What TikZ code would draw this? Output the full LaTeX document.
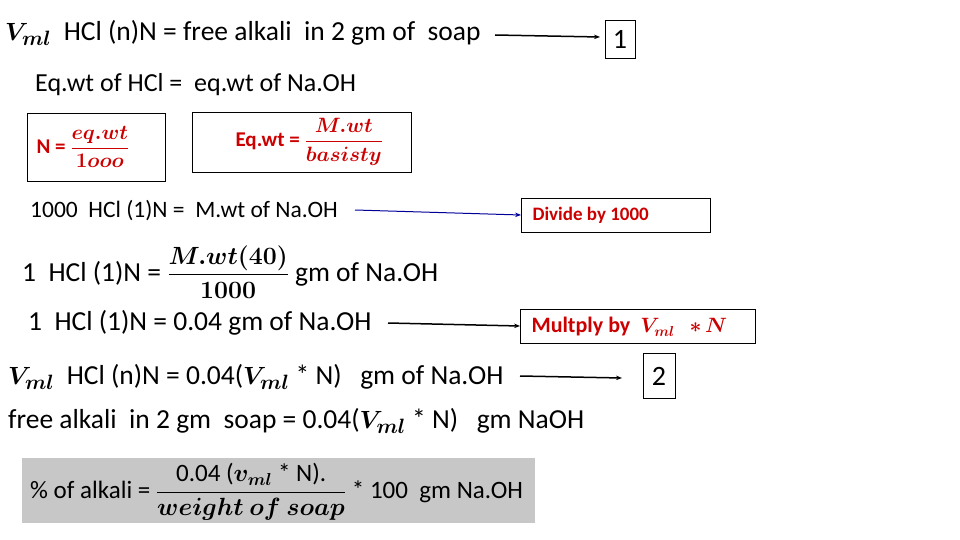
\documentclass[tikz,border=0pt]{standalone}
\usepackage{amsmath,bm}
\usepackage{fontspec}
\setmainfont{Carlito}
\usetikzlibrary{arrows.meta}
\begin{document}
\begin{tikzpicture}[x=1pt,y=-1pt,
  txt/.style={anchor=west,inner sep=0pt,font=\fontsize{27.5}{32}\selectfont},
  sm/.style={anchor=west,inner sep=0pt,font=\fontsize{23.5}{27}\selectfont},
  arr/.style={-{Stealth[length=6pt]},line width=1.5pt},
  bx/.style={draw,line width=0.8pt,inner sep=0pt},
  red/.style={text=red!80!black,font=\bfseries\fontsize{21}{25}\selectfont}]
\useasboundingbox (0,0) rectangle (960,540);
\node[txt] (l1) at (5,33) {$\bm{V_{ml}}$\ \ HCl (n)N = free alkali\ \ in 2 gm of\ \ soap};
\node[bx,minimum width=30,minimum height=38,font=\fontsize{28}{32}\selectfont] (b1) at (620,39) {1};
\coordinate (a1) at (495,35);
\draw[arr] (a1) -- (600,37);
\node[txt,font=\fontsize{26}{30}\selectfont] (l2) at (35,85) {Eq.wt of HCl =\ \ eq.wt of Na.OH};
\node[bx,minimum width=138,minimum height=68] (bn) at (96,147) {};
\node[red,anchor=west] at (33,147) {N = $\dfrac{\bm{eq.wt}}{\bm{1ooo}}$};
\node[bx,minimum width=219,minimum height=60] (be) at (302,142) {};
\node[red,anchor=west] at (232,142) {Eq.wt = $\dfrac{\bm{M.wt}}{\bm{basisty}}$};
\node[sm] (l3) at (30,211) {1000\ \ HCl (1)N =\ \ M.wt of Na.OH};
\node[bx,minimum width=189,minimum height=34] (bd) at (616,215) {};
\node[anchor=west,text=red!80!black,font=\bfseries\fontsize{19}{22}\selectfont] at (529,215) {Divide by 1000};
\coordinate (a3) at (355,210);
\draw[arr,blue!60!black,line width=1pt] (a3) -- (bd.west);
\node[txt] (l4) at (22,272) {1\ \ HCl (1)N = $\dfrac{\bm{M.wt(40)}}{\bm{1000}}$ gm of Na.OH};
\node[txt] (l5) at (28,323) {1\ \ HCl (1)N = 0.04 gm of Na.OH};
\node[bx,minimum width=235,minimum height=34] (bm) at (638,326) {};
\node[red,anchor=west,font=\bfseries\fontsize{22}{26}\selectfont] at (528,327) {Multply by\ \ $\bm{V_{ml}}$\ \ \ $\bm{*\,N}$};
\coordinate (a5) at (388,323);
\draw[arr] (a5) -- (bm.west);
\node[txt] (l6) at (8,377) {$\bm{V_{ml}}$\ \ HCl (n)N = 0.04($\bm{V_{ml}}$ * N)\ \ \ gm of Na.OH};
\node[bx,minimum width=32,minimum height=45,font=\fontsize{28}{32}\selectfont] (b2) at (659,376) {2};
\coordinate (a6) at (520,376);
\draw[arr] (a6) -- (622,378);
\node[txt] (l7) at (8,421) {free alkali\ \ in 2 gm\ \ soap = 0.04($\bm{V_{ml}}$ * N)\ \ \ gm NaOH};
\node[fill=black!22,minimum width=513,minimum height=65,inner sep=0pt] (g) at (278.5,490.5) {};
\node[txt,font=\fontsize{25}{29}\selectfont] at (30,492) {\% of alkali = $\dfrac{\text{0.04 (}\bm{v_{ml}}\text{ * N).}}{\bm{weight\ of\ soap}}$ * 100\ \ gm Na.OH};
\end{tikzpicture}
\end{document}
